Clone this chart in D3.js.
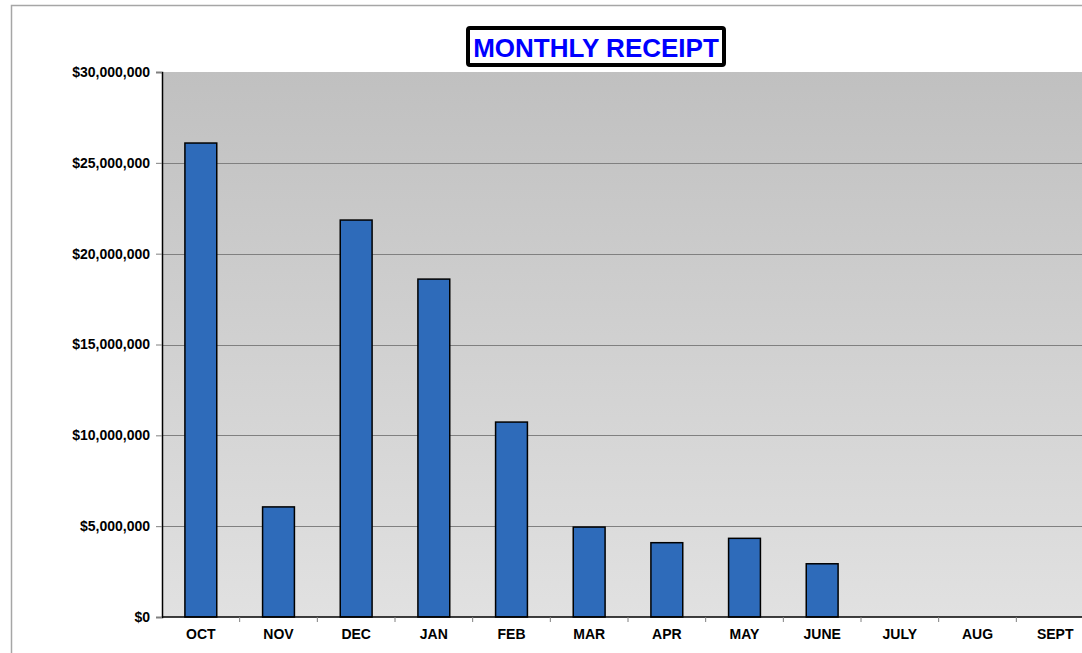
<!DOCTYPE html>
<html>
<head>
<meta charset="utf-8">
<script src="https://cdn.jsdelivr.net/npm/d3@7"></script>
<style>
  body { margin: 0; background: #fff; }
  svg { display: block; font-family: "Liberation Sans", Arial, sans-serif; }
</style>
</head>
<body>
<svg id="chart"></svg>
<script>
const months = ["OCT", "NOV", "DEC", "JAN", "FEB", "MAR", "APR", "MAY", "JUNE", "JULY", "AUG", "SEPT"];
const receipts = [26090000, 6060000, 21850000, 18600000, 10730000, 4950000, 4090000, 4330000, 2930000, null, null, null];
const yTicks = [0, 5000000, 10000000, 15000000, 20000000, 25000000, 30000000];
const title = "MONTHLY RECEIPT";

const svgWidth = 1082, svgHeight = 653;
const margin = { top: 72, left: 162, bottom: 36, right: -12 };
const width = svgWidth - margin.left - margin.right;
const height = svgHeight - margin.top - margin.bottom;

const svg = d3.select("#chart")
  .attr("width", svgWidth)
  .attr("height", svgHeight);

// outer chart frame
svg.append("path")
  .attr("d", `M11.5,${svgHeight} V5.5 H${svgWidth}`)
  .attr("fill", "none")
  .attr("stroke", "#a6a6a6")
  .attr("stroke-width", 1.5);

const defs = svg.append("defs");
const grad = defs.append("linearGradient")
  .attr("id", "bg").attr("x1", 0).attr("y1", 0).attr("x2", 0).attr("y2", 1);
grad.append("stop").attr("offset", "0%").attr("stop-color", "#c0c0c0");
grad.append("stop").attr("offset", "100%").attr("stop-color", "#e1e1e1");

const g = svg.append("g")
  .attr("transform", `translate(${margin.left},${margin.top})`);

const xs = d3.scaleBand().domain(months).range([0, width]).paddingInner(0.59).paddingOuter(0.295);
const ys = d3.scaleLinear().domain([0, 30000000]).range([height, 0]);

g.append("rect")
  .attr("width", width)
  .attr("height", height)
  .attr("fill", "url(#bg)");

// gridlines
g.append("g")
  .selectAll("line")
  .data(yTicks.filter(d => d > 0 && d < 30000000))
  .join("line")
  .attr("x1", 0).attr("x2", width)
  .attr("y1", d => Math.round(ys(d)) + 0.5)
  .attr("y2", d => Math.round(ys(d)) + 0.5)
  .attr("stroke", "#808080")
  .attr("stroke-width", 1);

// bars
g.append("g")
  .selectAll("rect")
  .data(months.map((m, i) => ({ m, v: receipts[i] })).filter(d => d.v != null))
  .join("rect")
  .attr("x", d => xs(d.m))
  .attr("y", d => ys(d.v))
  .attr("width", xs.bandwidth())
  .attr("height", d => height - ys(d.v))
  .attr("fill", "#2e6bba")
  .attr("stroke", "#000")
  .attr("stroke-width", 1.5);

// y axis
const yAxis = g.append("g")
  .call(d3.axisLeft(ys).tickValues(yTicks).tickSize(6).tickPadding(6)
    .tickFormat(d => "$" + d3.format(",")(d)));
yAxis.select(".domain").attr("stroke", "#000").attr("stroke-width", 1.5);
yAxis.selectAll(".tick line").attr("stroke", "#808080");
yAxis.selectAll("text")
  .attr("font-size", 14).attr("font-weight", "bold").attr("fill", "#000")
  .attr("font-family", "Liberation Sans, Arial, sans-serif");

// x axis: ticks between categories
const xAxis = g.append("g").attr("transform", `translate(0,${height})`);
xAxis.append("line")
  .attr("x1", 0).attr("x2", width)
  .attr("stroke", "#000").attr("stroke-width", 1.5);
const step = xs.step();
xAxis.selectAll(".sep")
  .data(months.slice(1))
  .join("line")
  .attr("class", "sep")
  .attr("x1", d => xs(d) - step * xs.paddingInner() / 2)
  .attr("x2", d => xs(d) - step * xs.paddingInner() / 2)
  .attr("y1", 0).attr("y2", 5)
  .attr("stroke", "#808080");
xAxis.selectAll("text")
  .data(months)
  .join("text")
  .attr("x", d => xs(d) + xs.bandwidth() / 2)
  .attr("y", 22)
  .attr("text-anchor", "middle")
  .attr("font-size", 14)
  .attr("font-weight", "bold")
  .text(d => d);

// title box
const tg = svg.append("g");
tg.append("rect")
  .attr("x", 468).attr("y", 28)
  .attr("width", 256).attr("height", 37)
  .attr("rx", 2)
  .attr("fill", "#fff")
  .attr("stroke", "#000")
  .attr("stroke-width", 4);
tg.append("text")
  .attr("x", 596).attr("y", 57)
  .attr("text-anchor", "middle")
  .attr("font-size", 26)
  .attr("font-weight", "bold")
  .attr("fill", "#0000ff")
  .text(title);
</script>
</body>
</html>
